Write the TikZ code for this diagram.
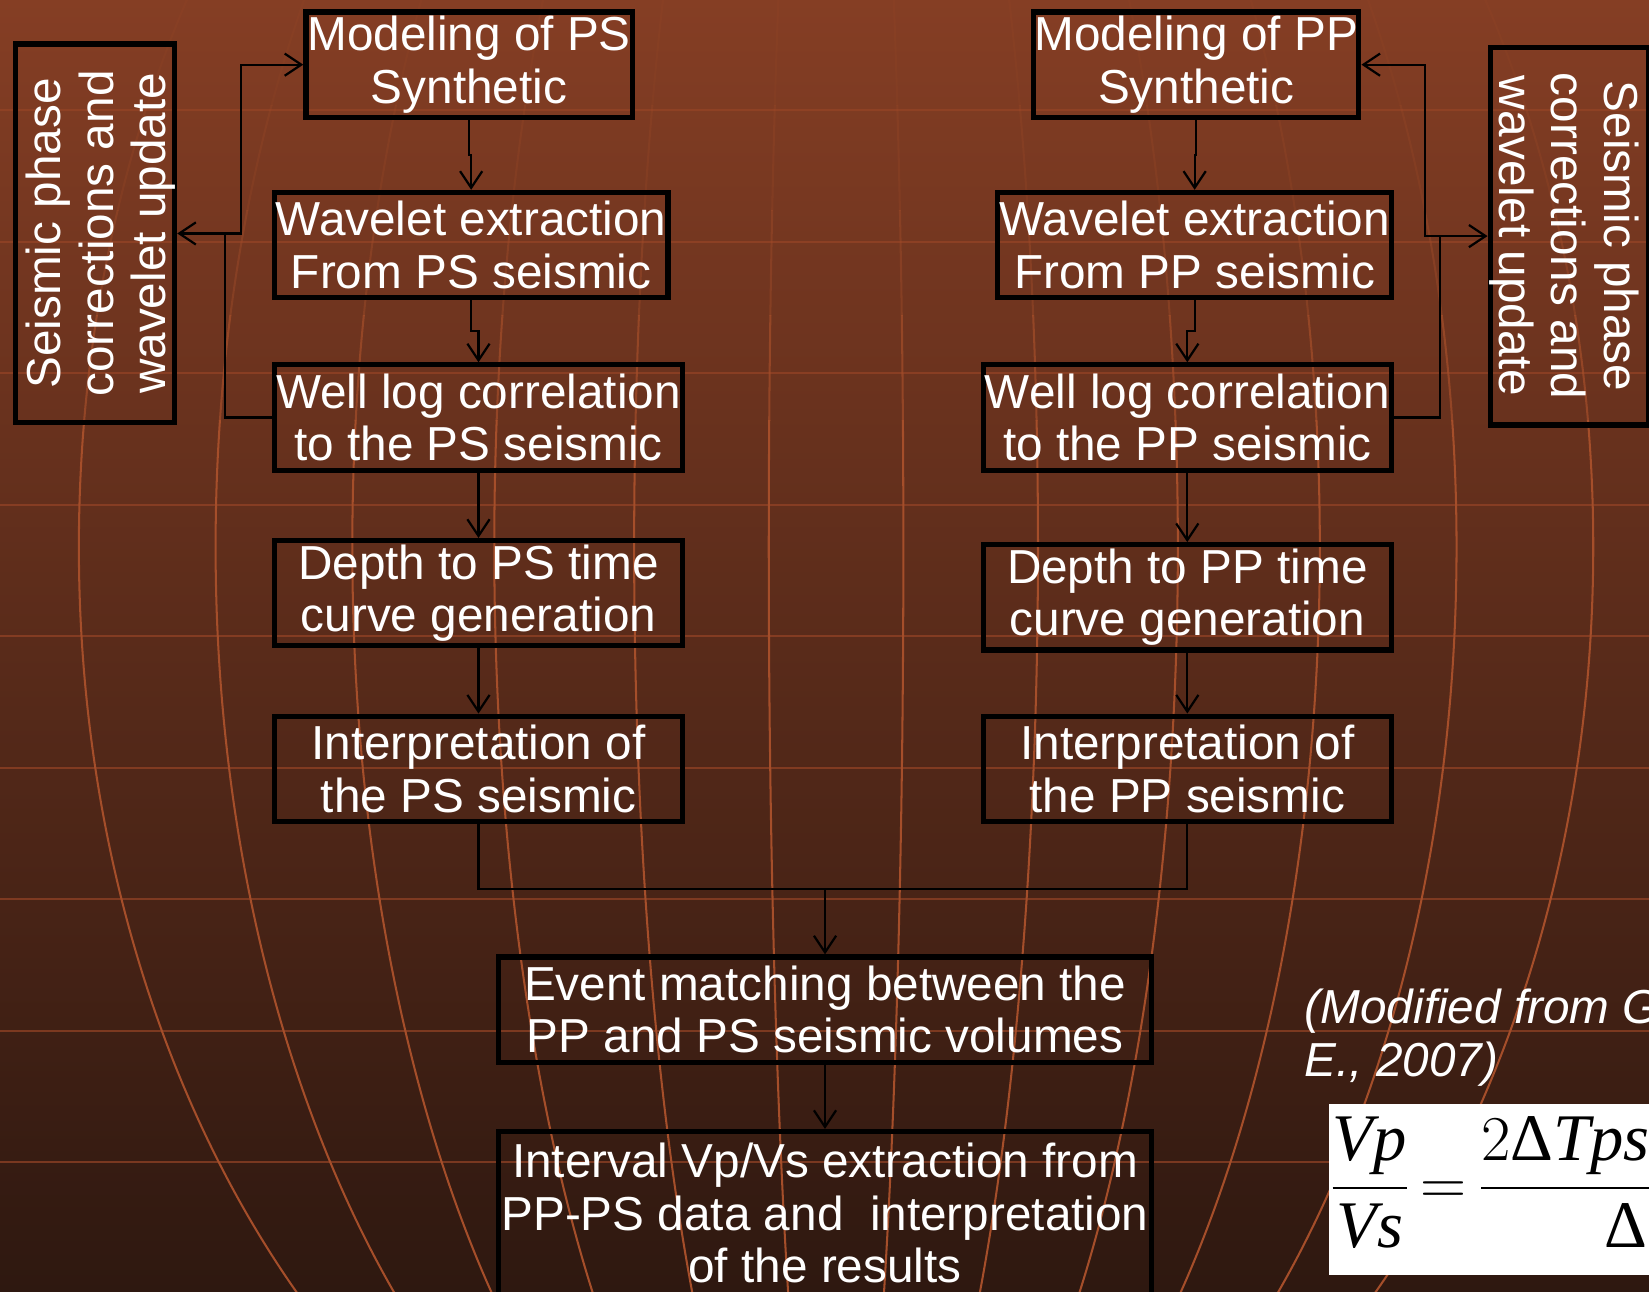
\documentclass[tikz,border=0pt]{standalone}
\usepackage{fontspec}
\usepackage{amsmath}
\setmainfont{Liberation Sans}
\newfontfamily\eqfont{Liberation Serif}
\usetikzlibrary{arrows.meta,calc}
\definecolor{bgtop}{RGB}{133,62,36}
\definecolor{bgbottom}{RGB}{46,24,16}
\definecolor{gridline}{RGB}{150,68,38}
\definecolor{meridian}{RGB}{165,78,42}
\newcommand{\sidetext}{\raisebox{-2pt}[\height][\depth]{\begin{tabular}{@{}c@{}}Seismic phase\\corrections and\\wavelet update\end{tabular}}}

\begin{document}
\begin{tikzpicture}[x=0.01cm,y=-0.01cm,
  procbox/.style={draw=black, line width=1.4pt, text=white, align=center, inner sep=0pt,
    minimum height=1cm, font=\fontsize{12.9}{14.2}\selectfont},
  flow/.style={draw=black, line width=0.6pt, -{Straight Barb[length=4.5pt,width=6pt]}},
  plainline/.style={draw=black, line width=0.6pt}]
\useasboundingbox (0,0) rectangle (1568,1228);
\clip (0,0) rectangle (1568,1228);

% background
\shade[top color=bgtop, bottom color=bgbottom] (0,0) rectangle (1568,1228);
\foreach \y in {105,230,...,1105} {
    \draw[gridline, opacity=0.7, line width=0.5pt] (0,\y) -- (1568,\y);
}
\foreach \ya/\yb/\op in {0/100/0.12,100/200/0.22,200/300/0.4,300/400/0.7,400/1228/1} {
    \begin{scope}
        \clip (0,\ya) rectangle (1568,\yb);
        \foreach \a in {64,192,325,460,590,720} {
            \draw[meridian, opacity=\op, line width=0.55pt] (795,520) ellipse [x radius=\a, y radius=1010];
        }
    \end{scope}
}

% PS branch
\node[procbox, minimum width=3.1cm] (ps1) at (446,61.5) {Modeling of PS\\Synthetic};
\node[procbox, minimum width=3.74cm] (ps2) at (448,233) {Wavelet extraction\\From PS seismic};
\node[procbox, minimum width=3.88cm] (ps3) at (455,397) {Well log correlation\\to the PS seismic};
\node[procbox, minimum width=3.88cm] (ps4) at (455,564) {Depth to PS time\\curve generation};
\node[procbox, minimum width=3.88cm] (ps5) at (455,731) {Interpretation of\\the PS seismic};

% PP branch
\node[procbox, minimum width=3.09cm] (pp1) at (1137.5,61.5) {Modeling of PP\\Synthetic};
\node[procbox, minimum width=3.74cm] (pp2) at (1136,233) {Wavelet extraction\\From PP seismic};
\node[procbox, minimum width=3.88cm] (pp3) at (1129,397) {Well log correlation\\to the PP seismic};
\node[procbox, minimum width=3.88cm] (pp4) at (1129,568) {Depth to PP time\\curve generation};
\node[procbox, minimum width=3.88cm] (pp5) at (1129,731) {Interpretation of\\the PP seismic};

% update boxes
\node[procbox, minimum width=1.51cm, minimum height=3.6cm] (sideL) at (90.5,222) {\rotatebox{90}{\sidetext}};
\node[procbox, minimum width=1.51cm, minimum height=3.59cm] (sideR) at (1492.5,224.5) {\rotatebox{-90}{\sidetext}};

% joint steps
\node[procbox, minimum width=6.21cm] (event) at (784.5,960) {Event matching between the\\PP and PS seismic volumes};
\node[procbox, minimum width=6.21cm, minimum height=1.55cm] (interval) at (784.5,1153.5)
    {Interval Vp/Vs extraction from\\PP-PS data and~ interpretation\\of the results};

\node[text=white, font=\fontsize{12.9}{14.2}\selectfont\itshape, align=left, anchor=north west, inner sep=0pt]
    (cite) at (1240,940) {(Modified from G\\E., 2007)};
\node[fill=white, inner sep=1pt, anchor=west, minimum height=1.62cm, font=\eqfont\fontsize{18}{22}\selectfont]
    (ratio) at (1263,1131)
    {\nulldelimiterspace=0pt \thickmuskip=4mu
     $\dfrac{\textit{Vp}}{\textit{Vs}}=\dfrac{2\text{Δ}\textit{Tps}-\text{Δ}\textit{Tpp}}{\text{Δ}\textit{Tpp}}$};

% connectors
\foreach \a/\b in {ps1/ps2,ps2/ps3,ps3/ps4,ps4/ps5,pp1/pp2,pp2/pp3,pp3/pp4,pp4/pp5} {
    \draw[flow] (\a.south) |- ($(\a.south)!.5!(\b.north)$) -| (\b.north);
}
\coordinate (splitL) at (214,222);
\draw[flow] (ps3.west) -| (splitL) -- (sideL.east);
\draw[flow] (splitL) -- ++(15,0) |- (ps1.west);
\coordinate (splitR) at (1369,224.5);
\draw[flow] (pp3.east) -| (splitR) -- (sideR.west);
\draw[flow] (splitR) -- ++(-14,0) |- (pp1.east);

\coordinate (merge) at (784.5,845);
\draw[plainline] (ps5.south) |- (merge) -| (pp5.south);
\draw[flow] (merge) -- (event.north);
\draw[flow] (event.south) -- (interval.north);
\end{tikzpicture}
\end{document}
